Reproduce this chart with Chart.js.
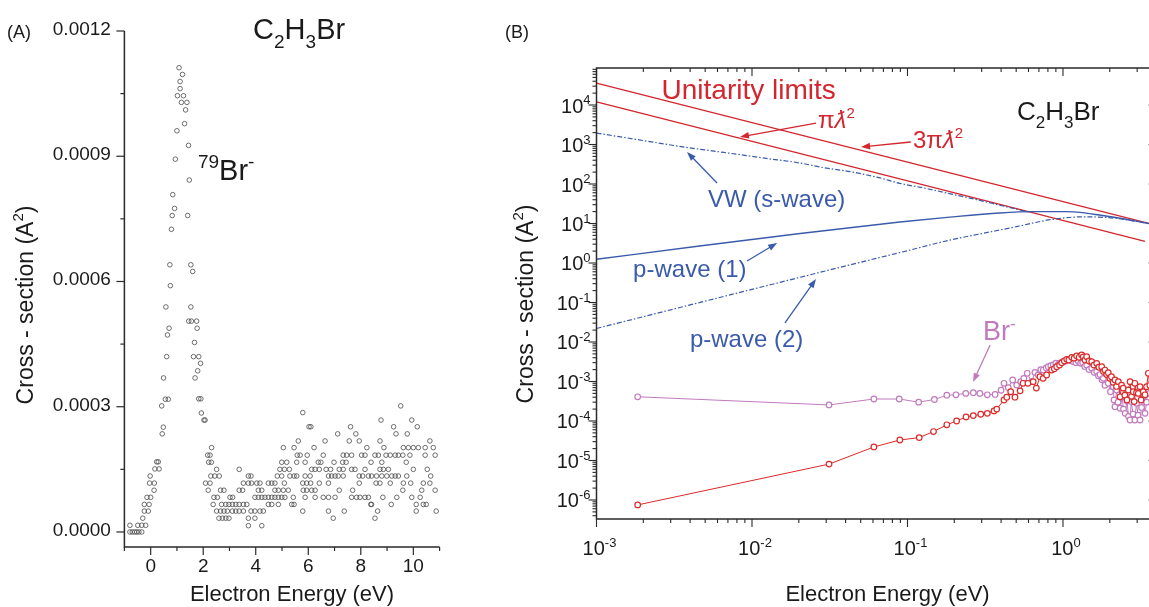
<!DOCTYPE html>
<html>
<head>
<meta charset="utf-8">
<script src="https://cdn.jsdelivr.net/npm/chart.js@4.4.0/dist/chart.umd.min.js"></script>
<style>
  html, body { margin: 0; padding: 0; background: #fff; overflow: hidden; }
  #wrap { position: relative; width: 1149px; height: 607px; overflow: hidden; background: #fff; }
  #wrap canvas { position: absolute; top: 0; }
  #panelA { left: 0; }
  #panelB { left: 470px; }
</style>
</head>
<body>
<div id="wrap">
  <canvas id="panelA" width="470" height="607"></canvas>
  <canvas id="panelB" width="700" height="607"></canvas>
</div>
<script>
// ---- (A) 79Br- yield: [electron energy (eV), cross section in 1e-4 A^2]
const br79Scan = [
  [-0.79, 0.16], [-0.49, 0.16], [-0.34, 0.16], [-0.19, 0.16],
  [-0.79, 0], [-0.70, 0], [-0.61, 0], [-0.53, 0], [-0.45, 0], [-0.34, 0],
  [-0.30, 0.33],
  [-0.24, 0.50], [-0.09, 0.50],
  [-0.24, 0.66], [-0.06, 0.66],
  [-0.14, 0.83], [0.00, 0.83],
  [0.13, 1.00],
  [-0.04, 1.17], [0.14, 1.17],
  [-0.02, 1.34],
  [0.16, 1.51], [0.32, 1.51],
  [0.23, 1.68], [0.29, 1.68],
  [0.44, 2.35], [0.48, 2.51], [0.42, 3.02], [0.56, 3.18], [0.67, 3.18], [0.49, 3.69],
  [0.61, 4.20], [0.64, 4.72], [0.70, 4.88], [0.58, 5.39], [0.75, 5.90], [0.73, 6.40],
  [0.79, 7.25], [0.82, 7.58], [0.91, 7.75], [0.84, 8.08], [0.94, 8.93], [1.00, 9.61],
  [1.02, 10.45], [1.08, 11.12], [1.12, 10.79], [1.12, 10.62], [1.17, 10.29], [1.21, 10.96],
  [1.25, 10.45], [1.29, 9.78], [1.33, 10.11], [1.38, 10.29], [1.41, 7.58], [1.44, 9.26],
  [1.47, 8.43], [1.53, 6.40], [1.60, 6.24],
  [1.53, 5.39], [1.45, 5.05], [1.55, 5.05], [1.75, 5.05], [1.77, 4.88], [1.67, 4.54],
  [1.63, 4.20], [1.83, 4.20], [1.90, 4.04], [1.79, 3.86], [1.69, 3.69], [1.83, 3.19],
  [1.91, 3.19], [1.93, 2.85], [2.03, 2.68], [2.07, 2.68],
  [2.32, 2.02],
  [2.17, 1.84], [2.26, 1.84],
  [2.21, 1.67], [2.31, 1.67],
  [2.51, 1.50], [3.37, 1.50],
  [2.29, 1.34], [2.44, 1.34], [2.61, 1.34], [3.72, 1.34], [3.82, 1.34],
  [2.09, 1.17], [2.26, 1.17], [3.53, 1.17], [3.72, 1.17], [3.84, 1.17], [4.04, 1.17],
  [4.16, 1.17], [4.48, 1.17], [4.61, 1.17], [4.73, 1.17], [5.09, 1.17],
  [2.19, 1.00], [2.66, 1.00], [2.79, 1.00], [3.37, 1.00], [3.50, 1.00], [4.10, 1.00],
  [4.23, 1.00], [4.73, 1.00], [4.86, 1.00], [5.05, 1.00], [5.24, 1.00],
  [2.41, 0.83], [2.54, 0.83], [3.02, 0.83], [3.12, 0.83], [3.97, 0.83], [4.10, 0.83],
  [4.23, 0.83], [4.35, 0.83], [4.48, 0.83], [4.61, 0.83], [4.73, 0.83], [4.86, 0.83],
  [4.99, 0.83], [5.11, 0.83], [5.43, 0.83],
  [2.38, 0.66], [2.70, 0.66], [2.86, 0.66], [2.98, 0.66], [3.11, 0.66], [3.24, 0.66],
  [3.37, 0.66], [3.53, 0.66], [3.66, 0.66], [4.48, 0.66], [4.61, 0.66], [4.86, 0.66],
  [5.37, 0.66], [5.46, 0.66],
  [2.51, 0.50], [2.66, 0.50], [2.79, 0.50], [2.92, 0.50], [3.11, 0.50], [3.24, 0.50],
  [3.37, 0.50], [3.53, 0.50], [3.82, 0.50], [3.97, 0.50], [4.16, 0.50], [4.29, 0.50],
  [5.79, 0.50],
  [2.60, 0.33], [2.73, 0.33], [2.86, 0.33], [2.98, 0.33], [3.72, 0.33], [3.97, 0.33],
  [3.72, 0.15], [4.23, 0.15],
  [5.79, 2.86], [6.03, 2.52], [5.62, 2.18], [5.05, 2.02], [5.46, 2.02],
  [5.58, 1.84], [5.69, 1.84], [5.96, 1.84],
  [4.99, 1.67], [5.18, 1.67], [5.56, 1.67], [5.88, 1.67], [6.38, 1.67],
  [4.92, 1.50], [5.09, 1.50], [5.28, 1.50],
  [4.82, 1.34], [4.99, 1.34], [5.30, 1.34], [5.46, 1.34], [5.56, 1.34], [5.88, 1.34],
  [5.79, 1.17], [5.94, 1.17], [6.09, 1.17],
  [5.81, 1.00], [5.94, 1.00],
  [5.88, 0.83],
  [9.52, 3.02],
  [8.77, 2.68], [9.94, 2.68],
  [6.10, 2.52], [7.61, 2.52], [9.25, 2.52], [10.15, 2.52],
  [7.12, 2.35], [7.81, 2.35], [9.34, 2.35], [9.77, 2.35],
  [6.64, 2.18], [7.56, 2.18], [7.94, 2.18], [8.73, 2.18], [10.63, 2.18],
  [6.22, 2.02], [8.23, 2.02], [8.88, 2.02], [9.62, 2.02], [9.81, 2.02], [10.00, 2.02],
  [10.19, 2.02], [10.45, 2.02], [10.76, 2.02],
  [6.57, 1.84], [7.33, 1.84], [7.46, 1.84], [7.65, 1.84], [8.03, 1.84], [8.16, 1.84],
  [8.54, 1.84], [8.67, 1.84], [8.96, 1.84], [9.12, 1.84], [9.31, 1.84], [9.43, 1.84],
  [9.60, 1.84], [9.87, 1.84], [10.45, 1.84], [10.83, 1.84],
  [6.48, 1.67], [6.98, 1.67], [7.31, 1.67], [7.44, 1.67], [8.39, 1.67], [8.80, 1.67], [9.73, 1.67],
  [6.13, 1.50], [6.26, 1.50], [6.42, 1.50], [6.68, 1.50], [6.85, 1.50], [7.18, 1.50],
  [7.33, 1.50], [7.65, 1.50], [7.78, 1.50], [8.16, 1.50], [8.73, 1.50], [8.86, 1.50],
  [9.05, 1.50], [10.00, 1.50], [10.53, 1.50],
  [6.07, 1.34], [6.77, 1.34], [6.89, 1.34], [7.02, 1.34], [7.14, 1.34], [7.33, 1.34],
  [7.94, 1.34], [8.07, 1.34], [8.29, 1.34], [8.41, 1.34], [8.60, 1.34], [8.80, 1.34],
  [8.99, 1.34], [9.18, 1.34], [9.31, 1.34], [9.43, 1.34], [9.75, 1.34], [10.66, 1.34],
  [6.42, 1.17], [6.77, 1.17], [7.94, 1.17], [8.58, 1.17], [8.73, 1.17], [9.12, 1.17],
  [9.62, 1.17], [9.90, 1.17], [10.38, 1.17], [10.63, 1.17],
  [6.13, 1.00], [6.26, 1.00], [7.18, 1.00], [7.69, 1.00], [9.60, 1.00], [10.32, 1.00], [10.83, 1.00],
  [6.26, 0.83], [6.57, 0.83], [6.77, 0.83], [7.02, 0.83], [7.65, 0.83], [7.84, 0.83],
  [7.97, 0.83], [8.16, 0.83], [8.29, 0.83], [8.84, 0.83], [9.37, 0.83], [9.94, 0.83], [10.26, 0.83],
  [8.38, 0.66], [8.41, 0.66], [9.16, 0.66], [10.11, 0.66], [10.38, 0.66], [10.49, 0.66],
  [6.77, 0.50], [7.37, 0.50], [8.64, 0.50], [10.11, 0.50], [10.87, 0.50],
  [6.95, 0.33], [8.54, 0.33]
];
const xMajorA = [0, 2, 4, 6, 8, 10];
const xMinorA = [-1, 1, 3, 5, 7, 9, 11];
const yMajorA = [0, 3, 6, 9, 12];
const yMinorA = [1.5, 4.5, 7.5, 10.5];

// ---- (B) log-log cross sections (eV, A^2)
const limit3Energy = [0.001, 4];
const limit3Cross = [36000, 9];
const limit1Energy = [0.001, 3.37];
const limit1Cross = [12000, 3.55];

const sWaveEnergy = [0.001, 0.002, 0.0036, 0.0066, 0.0121, 0.0204, 0.0276, 0.043, 0.0655, 0.089, 0.13, 0.19, 0.28, 0.4, 0.6];
const sWaveCross = [1950, 1260, 870, 630, 450, 340, 268, 205, 145, 104, 78, 56, 40, 28.5, 19.5];

const pWave1Energy = [0.001, 0.0046, 0.0204, 0.0893, 0.187, 0.392, 0.64, 1.05, 1.33, 1.71, 2.5, 3.5, 4];
const pWave1Cross = [1.24, 2.7, 5.6, 10.9, 14.5, 18.5, 20, 20, 18.8, 16.4, 13, 10.1, 9.3];

const pWave2Energy = [0.001, 0.01, 0.055, 0.1, 0.187, 0.304, 0.5, 0.83, 1.36, 2.2, 3.5, 4];
const pWave2Cross = [0.022, 0.215, 1.15, 2.05, 3.8, 5.6, 8.3, 12.5, 14.8, 13.5, 10.1, 9.4];

const brEnergy = [0.00184, 0.0313, 0.0608, 0.0885, 0.118, 0.149, 0.179, 0.205, 0.237, 0.265,
  0.292, 0.326, 0.366, 0.40, 0.4175, 0.445, 0.4746, 0.504, 0.535, 0.56,
  0.589, 0.629, 0.66, 0.693, 0.72, 0.747, 0.78, 0.804, 0.835, 0.866,
  0.90, 0.933, 0.97, 1.004, 1.04, 1.08, 1.12, 1.16, 1.21, 1.254,
  1.30, 1.338, 1.38, 1.42, 1.47, 1.53, 1.59, 1.647, 1.69, 1.73,
  1.78, 1.816, 1.86, 1.955, 2.02, 2.106, 2.13, 2.16, 2.213, 2.26,
  2.33, 2.40, 2.45, 2.51, 2.58, 2.64, 2.70, 2.75, 2.82, 2.90,
  2.97, 3.04, 3.13, 3.2, 3.27, 3.37, 3.45, 3.5, 3.6, 3.75];
const brCross = [4.1e-4, 2.55e-4, 3.6e-4, 3.6e-4, 3.0e-4, 3.5e-4, 4.5e-4, 4.6e-4, 5.0e-4, 5.2e-4,
  5.0e-4, 4.6e-4, 4.7e-4, 6.0e-4, 9.0e-4, 7.0e-4, 1.09e-3, 8.1e-4, 9.9e-4, 1.2e-3,
  1.61e-3, 9.9e-4, 1.7e-3, 1.46e-3, 2.0e-3, 1.95e-3, 2.2e-3, 2.37e-3, 2.5e-3, 2.62e-3,
  2.9e-3, 2.7e-3, 3.0e-3, 3.17e-3, 3.3e-3, 3.5e-3, 3.4e-3, 3.2e-3, 3.0e-3, 3.3e-3,
  2.9e-3, 3.0e-3, 2.4e-3, 2.6e-3, 2.0e-3, 2.2e-3, 1.7e-3, 1.8e-3, 1.4e-3, 1.5e-3,
  1.1e-3, 1.2e-3, 8.0e-4, 9.0e-4, 5.5e-4, 7.4e-4, 3.4e-4, 2.3e-4, 6.1e-4, 3.0e-4,
  2.1e-4, 4.1e-4, 2.0e-4, 1.56e-4, 3.2e-4, 1.3e-4, 1.06e-4, 3.1e-4, 1.5e-4, 1.06e-4,
  2.8e-4, 1.4e-4, 1.06e-4, 2.2e-4, 4.1e-4, 1.56e-4, 3.0e-4, 6.1e-4, 5e-4, 4e-4];

const redEnergy = [0.00184, 0.0313, 0.0608, 0.0893, 0.119, 0.147, 0.179, 0.207, 0.238, 0.265,
  0.296, 0.326, 0.36, 0.375, 0.4175, 0.435, 0.461, 0.491, 0.53, 0.553,
  0.595, 0.643, 0.674, 0.711, 0.745, 0.785, 0.845, 0.88, 0.911, 0.95,
  0.981, 1.02, 1.057, 1.09, 1.138, 1.18, 1.225, 1.27, 1.319, 1.35,
  1.385, 1.42, 1.47, 1.53, 1.58, 1.647, 1.70, 1.774, 1.82, 1.862,
  1.91, 1.955, 2.0, 2.05, 2.10, 2.16, 2.21, 2.27, 2.33, 2.38,
  2.44, 2.5, 2.58, 2.63, 2.70, 2.76, 2.83, 2.87, 2.90, 2.97,
  3.05, 3.13, 3.18, 3.28, 3.37, 3.45, 3.54, 3.62, 3.75, 3.9];
const redCross = [7.5e-7, 8.1e-6, 2.2e-5, 3.3e-5, 3.8e-5, 5.4e-5, 8.0e-5, 1.0e-4, 1.27e-4, 1.37e-4,
  1.48e-4, 1.56e-4, 1.8e-4, 2.0e-4, 3.4e-4, 4.0e-4, 5.5e-4, 4.0e-4, 5.8e-4, 9.0e-4,
  9.0e-4, 9.9e-4, 6.8e-4, 1.32e-3, 1.2e-3, 1.46e-3, 1.95e-3, 2.1e-3, 2.37e-3, 2.6e-3,
  2.99e-3, 3.3e-3, 3.64e-3, 3.5e-3, 4.09e-3, 3.9e-3, 4.42e-3, 4.1e-3, 4.69e-3, 4.2e-3,
  3.5e-3, 4.25e-3, 3.3e-3, 3.17e-3, 2.6e-3, 2.88e-3, 2.3e-3, 2.37e-3, 1.8e-3, 1.95e-3,
  1.5e-3, 1.67e-3, 1.2e-3, 1.32e-3, 9.5e-4, 1.09e-3, 7.5e-4, 9.9e-4, 4.1e-4, 8.1e-4,
  6.8e-4, 4.5e-4, 3.4e-4, 6.1e-4, 9.9e-4, 4.2e-4, 5.5e-4, 3.1e-4, 9.0e-4, 5.2e-4,
  5.0e-4, 7.4e-4, 3.4e-4, 5.5e-4, 4.6e-4, 7.4e-4, 1.61e-3, 8e-4, 6e-4, 5e-4];

const xDecadesB = [-3, -2, -1, 0];
const yDecadesB = [-6, -5, -4, -3, -2, -1, 0, 1, 2, 3, 4];

// ---- styling
const FONT = '"Liberation Sans", Arial, Helvetica, sans-serif';
const AXIS = '#2a2a2a';
const RED = '#d3262e';
const BLUE = '#3a5aab';
const PINK = '#c07abd';

function setFont(ctx, size, italic) {
  ctx.font = (italic ? 'italic ' : '') + size + 'px ' + FONT;
}

// parts: [text, shift, italic]; shift 1 = superscript, -1 = subscript
function drawRich(ctx, parts, x, y, size, align) {
  const small = Math.round(size * 0.64);
  const widths = parts.map(([t, shift, it]) => {
    setFont(ctx, shift ? small : size, it);
    return ctx.measureText(t).width;
  });
  const total = widths.reduce((a, b) => a + b, 0);
  let cx = align === 'center' ? x - total / 2 : align === 'right' ? x - total : x;
  ctx.textAlign = 'left';
  ctx.textBaseline = 'alphabetic';
  parts.forEach(([t, shift, it], i) => {
    setFont(ctx, shift ? small : size, it);
    const dy = shift > 0 ? -size * 0.42 : shift < 0 ? size * 0.3 : 0;
    ctx.fillText(t, cx, y + dy);
    cx += widths[i];
  });
}

function arrow(ctx, x1, y1, x2, y2, color) {
  const ang = Math.atan2(y2 - y1, x2 - x1);
  const len = 9, half = 3.3;
  const c = Math.cos(ang), s = Math.sin(ang);
  ctx.strokeStyle = color;
  ctx.fillStyle = color;
  ctx.lineWidth = 1.3;
  ctx.beginPath();
  ctx.moveTo(x1, y1);
  ctx.lineTo(x2 - c * len * 0.7, y2 - s * len * 0.7);
  ctx.stroke();
  ctx.beginPath();
  ctx.moveTo(x2, y2);
  ctx.lineTo(x2 - c * len + s * half, y2 - s * len - c * half);
  ctx.lineTo(x2 - c * len - s * half, y2 - s * len + c * half);
  ctx.closePath();
  ctx.fill();
}

function tick(ctx, x1, y1, x2, y2) {
  ctx.beginPath();
  ctx.moveTo(x1, y1);
  ctx.lineTo(x2, y2);
  ctx.stroke();
}

// ---- panel A axes and labels
const axesA = {
  id: 'axesA',
  afterDraw(chart) {
    const { ctx, chartArea: a, scales: { x, y } } = chart;
    ctx.save();
    ctx.strokeStyle = AXIS;
    ctx.lineWidth = 1.5;
    ctx.beginPath();
    ctx.moveTo(a.left, a.top);
    ctx.lineTo(a.left, a.bottom);
    ctx.lineTo(a.right, a.bottom);
    ctx.stroke();

    ctx.lineWidth = 1.2;
    yMajorA.forEach(v => { const p = y.getPixelForValue(v); tick(ctx, a.left - 8, p, a.left, p); });
    yMinorA.forEach(v => { const p = y.getPixelForValue(v); tick(ctx, a.left - 4, p, a.left, p); });
    xMajorA.forEach(v => { const p = x.getPixelForValue(v); tick(ctx, p, a.bottom, p, a.bottom + 8); });
    xMinorA.forEach(v => { const p = x.getPixelForValue(v); tick(ctx, p, a.bottom, p, a.bottom + 4); });

    ctx.fillStyle = '#1a1a1a';
    setFont(ctx, 19);
    ctx.textAlign = 'right';
    ctx.textBaseline = 'alphabetic';
    yMajorA.forEach(v => {
      ctx.fillText((v / 10000).toFixed(4), a.left - 13.5, y.getPixelForValue(v) + 4);
    });
    ctx.textAlign = 'center';
    xMajorA.forEach(v => {
      ctx.fillText(String(v), x.getPixelForValue(v), a.bottom + 25);
    });

    // axis titles
    setFont(ctx, 22);
    ctx.fillText('Electron Energy (eV)', (a.left + a.right) / 2 + 10, a.bottom + 54);
    ctx.save();
    ctx.translate(33, 305);
    ctx.rotate(-Math.PI / 2);
    drawRich(ctx, [['Cross - section (A', 0], ['2', 1], [')', 0]], 0, 0, 23, 'center');
    ctx.restore();

    // panel tag, molecule and ion labels
    setFont(ctx, 18);
    ctx.textAlign = 'left';
    ctx.fillText('(A)', 7, 38);
    drawRich(ctx, [['C', 0], ['2', -1], ['H', 0], ['3', -1], ['Br', 0]],
      x.getPixelForValue(3.9), y.getPixelForValue(11.8), 29, 'left');
    drawRich(ctx, [['79', 1], ['Br', 0], ['-', 1]],
      x.getPixelForValue(1.8), y.getPixelForValue(8.43), 29, 'left');
    ctx.restore();
  }
};

new Chart(document.getElementById('panelA'), {
  type: 'scatter',
  data: {
    datasets: [{
      data: br79Scan.map(([e, c]) => ({ x: e, y: c })),
      pointRadius: 2.3,
      pointBorderWidth: 0.8,
      borderColor: '#4a4a4a',
      backgroundColor: 'rgba(0,0,0,0)'
    }]
  },
  options: {
    responsive: false,
    animation: false,
    devicePixelRatio: 1,
    layout: { padding: { left: 124.4, right: 30.4, top: 31, bottom: 60 } },
    plugins: { legend: { display: false }, tooltip: { enabled: false } },
    scales: {
      x: { type: 'linear', min: -1, max: 11, display: false },
      y: { type: 'linear', min: -0.36, max: 12, display: false }
    }
  },
  plugins: [axesA]
});

// ---- panel B frame, log ticks and annotations
const frameB = {
  id: 'frameB',
  afterDraw(chart) {
    const { ctx, chartArea: a, scales: { x, y } } = chart;
    const E = v => x.getPixelForValue(v);
    const S = v => y.getPixelForValue(v);
    ctx.save();
    ctx.strokeStyle = AXIS;
    ctx.lineWidth = 1.5;
    ctx.strokeRect(a.left, a.top, a.right - a.left, a.bottom - a.top);

    ctx.lineWidth = 1.1;
    for (let n = -7; n <= 5; n++) {
      for (let k = 1; k <= 9; k++) {
        const v = k * Math.pow(10, n);
        const len = k === 1 ? 8 : 4;
        if (v >= x.min && v <= x.max) {
          const p = E(v);
          tick(ctx, p, a.bottom, p, a.bottom + len);
          tick(ctx, p, a.top, p, a.top + len);
        }
        if (v >= y.min && v <= y.max) {
          const p = S(v);
          tick(ctx, a.left - len, p, a.left, p);
          tick(ctx, a.right - len, p, a.right, p);
        }
      }
    }

    ctx.fillStyle = '#1a1a1a';
    yDecadesB.forEach(n => {
      drawRich(ctx, [['10', 0], [String(n), 1]], a.left - 6, S(Math.pow(10, n)) + 7.5, 20, 'right');
    });
    xDecadesB.forEach(n => {
      drawRich(ctx, [['10', 0], [String(n), 1]], E(Math.pow(10, n)) + 3, a.bottom + 36, 20, 'center');
    });

    setFont(ctx, 22);
    ctx.textAlign = 'center';
    ctx.fillText('Electron Energy (eV)', (a.left + a.right) / 2 + 11, a.bottom + 82);
    ctx.save();
    ctx.translate(63, 304);
    ctx.rotate(-Math.PI / 2);
    drawRich(ctx, [['Cross - section (A', 0], ['2', 1], [')', 0]], 0, 0, 23, 'center');
    ctx.restore();

    setFont(ctx, 18);
    ctx.textAlign = 'left';
    ctx.fillText('(B)', 35, 38);

    drawRich(ctx, [['C', 0], ['2', -1], ['H', 0], ['3', -1], ['Br', 0]], E(0.506), S(4170), 26, 'left');

    // unitarity limits
    ctx.fillStyle = RED;
    drawRich(ctx, [['Unitarity limits', 0]], E(2.62e-3), S(1.42e4), 28, 'left');
    drawRich(ctx, [['\u03c0', 0], ['\u019b', 0, true], ['2', 1]], E(0.0266), S(2617), 24, 'left');
    drawRich(ctx, [['3\u03c0', 0], ['\u019b', 0, true], ['2', 1]], E(0.1084), S(815), 24, 'left');
    arrow(ctx, E(0.0258), S(3500), E(8.37e-3), S(1550), RED);
    arrow(ctx, E(0.105), S(1157), E(0.0503), S(864), RED);

    // model curves
    ctx.fillStyle = BLUE;
    drawRich(ctx, [['VW (s-wave)', 0]], E(5.21e-3), S(26.2), 24, 'left');
    drawRich(ctx, [['p-wave (1)', 0]], E(1.72e-3), S(0.443), 24, 'left');
    drawRich(ctx, [['p-wave (2)', 0]], E(3.99e-3), S(7.47e-3), 24, 'left');
    arrow(ctx, E(5.96e-3), S(106), E(3.82e-3), S(646), BLUE);
    arrow(ctx, E(9.3e-3), S(1.12), E(0.0145), S(3.21), BLUE);
    arrow(ctx, E(0.0163), S(0.0303), E(0.0258), S(0.394), BLUE);

    // Br- yield
    ctx.fillStyle = PINK;
    drawRich(ctx, [['Br', 0], ['-', 1]], E(0.306), S(0.01124), 27, 'left');
    arrow(ctx, E(0.34), S(8.4e-3), E(0.264), S(9.7e-4), PINK);
    ctx.restore();
  }
};

const pairs = (xs, ys) => xs.map((v, i) => ({ x: v, y: ys[i] }));
const curve = (data, color, dashed, width, order) => ({
  type: 'line',
  data,
  borderColor: color,
  borderWidth: width,
  borderDash: dashed ? [5, 2, 1.5, 2] : [],
  pointRadius: 0,
  cubicInterpolationMode: 'monotone',
  fill: false,
  order
});
const measured = (data, color, order) => ({
  type: 'line',
  data,
  borderColor: color,
  borderWidth: 1,
  pointRadius: 2.8,
  pointBorderWidth: 1.2,
  pointBorderColor: color,
  pointBackgroundColor: '#fff',
  tension: 0,
  fill: false,
  order
});

new Chart(document.getElementById('panelB'), {
  type: 'line',
  data: {
    datasets: [
      measured(pairs(redEnergy, redCross), '#dc2a2a', 0),
      measured(pairs(brEnergy, brCross), PINK, 1),
      curve(pairs(pWave1Energy, pWave1Cross), BLUE, false, 1.4, 2),
      curve(pairs(pWave2Energy, pWave2Cross), BLUE, true, 1.2, 3),
      curve(pairs(sWaveEnergy, sWaveCross), BLUE, true, 1.2, 4),
      curve(pairs(limit3Energy, limit3Cross), RED, false, 1.3, 5),
      curve(pairs(limit1Energy, limit1Cross), RED, false, 1.3, 6)
    ]
  },
  options: {
    responsive: false,
    animation: false,
    devicePixelRatio: 1,
    layout: { padding: { left: 126.5, right: 13.4, top: 68, bottom: 88 } },
    plugins: { legend: { display: false }, tooltip: { enabled: false } },
    scales: {
      x: { type: 'logarithmic', min: 0.001, max: 4, display: false },
      y: { type: 'logarithmic', min: 3.3e-7, max: 86500, display: false }
    }
  },
  plugins: [frameB]
});
</script>
</body>
</html>
